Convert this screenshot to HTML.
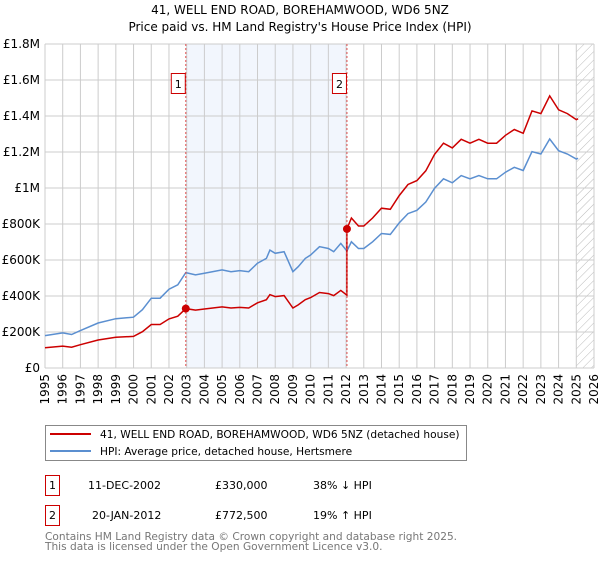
<!DOCTYPE html>
<html><head><meta charset="utf-8"><style>
body{margin:0;background:#fff;font-family:"DejaVu Sans","Liberation Sans",sans-serif;}
svg text{font-family:"DejaVu Sans","Liberation Sans",sans-serif;}
</style></head><body>
<svg id="c" width="600" height="560" xmlns="http://www.w3.org/2000/svg">
<defs><pattern id="hatch" width="6" height="6" patternUnits="userSpaceOnUse" patternTransform="rotate(45)"><line x1="0" y1="0" x2="0" y2="6" stroke="#bbb" stroke-width="1"/></pattern></defs>
<text x="300" y="14" text-anchor="middle" font-size="12">41, WELL END ROAD, BOREHAMWOOD, WD6 5NZ</text>
<text x="300" y="31" text-anchor="middle" font-size="12">Price paid vs. HM Land Registry's House Price Index (HPI)</text>
<g id="plot"></g>
<g>
<rect x="45.5" y="425.5" width="421" height="35" fill="#fff" stroke="#888"/>
<line x1="50" y1="434" x2="91" y2="434" stroke="#cc0000" stroke-width="2"/>
<text x="100" y="438" font-size="10.6">41, WELL END ROAD, BOREHAMWOOD, WD6 5NZ (detached house)</text>
<line x1="50" y1="451" x2="91" y2="451" stroke="#5b8fd0" stroke-width="2"/>
<text x="100" y="455" font-size="10.6">HPI: Average price, detached house, Hertsmere</text>
</g>
<g font-size="11">
<rect x="45.5" y="475.5" width="14" height="20" fill="#fff" stroke="#cc0000"/>
<text x="52.5" y="489" text-anchor="middle">1</text>
<text x="88" y="489">11-DEC-2002</text><text x="215" y="489">£330,000</text><text x="313" y="489">38% ↓ HPI</text>
<rect x="45.5" y="505.5" width="14" height="20" fill="#fff" stroke="#cc0000"/>
<text x="52.5" y="519" text-anchor="middle">2</text>
<text x="92" y="519">20-JAN-2012</text><text x="215" y="519">£772,500</text><text x="313" y="519">19% ↑ HPI</text>
</g>
<text x="45" y="540" font-size="10.6" fill="#777">Contains HM Land Registry data © Crown copyright and database right 2025.</text>
<text x="45" y="550" font-size="10.6" fill="#777">This data is licensed under the Open Government Licence v3.0.</text>
</svg>
<script>
const hpiYears=[1995,1996,1996.5,1997,1998,1999,2000,2000.5,2001,2001.5,2002,2002.5,2002.95,2003.5,2004,2005,2005.5,2006,2006.5,2007,2007.5,2007.7,2008,2008.5,2009,2009.3,2009.7,2010,2010.5,2011,2011.3,2011.7,2012.05,2012.3,2012.7,2013,2013.5,2014,2014.5,2015,2015.5,2016,2016.5,2017,2017.5,2018,2018.5,2019,2019.5,2020,2020.5,2021,2021.5,2022,2022.5,2023,2023.5,2024,2024.5,2025,2025.1];
const hpiValues=[180,195,186,208,250,274,282,324,388,388,438,462,530,517,526,545,535,541,535,582,609,655,637,646,535,563,609,628,674,664,646,692,650,701,664,664,701,747,742,806,858,876,922,999,1051,1029,1069,1051,1069,1051,1051,1088,1115,1097,1202,1189,1272,1207,1189,1161,1165];
const saleYears=[2002.95,2012.05];
const salePrices=[330,772.5];
const saleLabels=["1","2"];
const yTicks=[0,200,400,600,800,1000,1200,1400,1600,1800];
const yTickLabels=["£0","£200K","£400K","£600K","£800K","£1M","£1.2M","£1.4M","£1.6M","£1.8M"];
const xTicks=[];for(let y=1995;y<=2026;y++)xTicks.push(y);
const X0=45,X1=594,Y0=368,Y1=44;
const xs=y=>X0+(y-1995)/(2026-1995)*(X1-X0);
const ys=v=>Y0-v/1800*(Y0-Y1);
const NS="http://www.w3.org/2000/svg";
const g=document.getElementById('plot');
function mk(t,a,p){const e=document.createElementNS(NS,t);for(const k in a)e.setAttribute(k,a[k]);(p||g).appendChild(e);return e;}
const bg=mk('rect',{x:X0,y:Y1,width:X1-X0,height:Y0-Y1,fill:'#fff'});


const sh=mk('rect',{x:xs(saleYears[0]),y:Y1,width:xs(saleYears[1])-xs(saleYears[0]),height:Y0-Y1,fill:'#f2f6fd'});


const ht=mk('rect',{x:xs(2025),y:Y1,width:X1-xs(2025),height:Y0-Y1,fill:'url(#hatch)'});


xTicks.forEach(y=>{const l=mk('line',{x1:xs(y),x2:xs(y),y1:Y1,y2:Y0,stroke:'#ccc'});


const t=mk('text',{x:0,y:0,'font-size':12,'text-anchor':'end',transform:`translate(${xs(y)+4},${Y0+6}) rotate(-90)`});t.textContent=y;

});
yTicks.forEach((v,i)=>{const l=mk('line',{x1:X0,x2:X1,y1:ys(v),y2:ys(v),stroke:'#ccc'});


const t=mk('text',{x:X0-5,y:ys(v)+4,'font-size':12,'text-anchor':'end'});t.textContent=yTickLabels[i];

});
function hpiAt(y){for(let i=1;i<hpiYears.length;i++){if(y<=hpiYears[i]){const f=(y-hpiYears[i-1])/(hpiYears[i]-hpiYears[i-1]);return hpiValues[i-1]+f*(hpiValues[i]-hpiValues[i-1]);}}return hpiValues[hpiValues.length-1];}
const r0=salePrices[0]/hpiAt(saleYears[0]);
const bp=hpiYears.map((y,i)=>`${xs(y).toFixed(1)},${ys(hpiValues[i]).toFixed(1)}`).join(' ');
const redPts=[];
hpiYears.forEach((y,i)=>{let r=r0;
if(y>=saleYears[1]&&redPts.length&&!redPts.jumped){redPts.push([saleYears[1],hpiAt(saleYears[1])*r0]);redPts.jumped=true;}
for(let k=0;k<saleYears.length;k++)if(y>=saleYears[k])r=salePrices[k]/hpiAt(saleYears[k]);
redPts.push([y,hpiValues[i]*r]);});
const rp=redPts.map(p=>`${xs(p[0]).toFixed(1)},${ys(p[1]).toFixed(1)}`).join(' ');
const hl=mk('polyline',{points:bp,fill:'none',stroke:'#5b8fd0','stroke-width':1.5});


const pl=mk('polyline',{points:rp,fill:'none',stroke:'#cc0000','stroke-width':1.5});


saleYears.forEach((y,i)=>{const l=mk('line',{x1:xs(y),x2:xs(y),y1:Y1,y2:Y0,stroke:'#e05050','stroke-dasharray':'2,2'});


const d=mk('circle',{cx:xs(y),cy:ys(salePrices[i]),r:4,fill:'#cc0000'});


const b=mk('rect',{x:xs(y)-14.5,y:73.5,width:14,height:20,fill:'#fff',stroke:'#cc0000'});


const t=mk('text',{x:xs(y)-7.5,y:88,'font-size':11,'text-anchor':'middle'});t.textContent=saleLabels[i];

});
</script>
</body></html>
